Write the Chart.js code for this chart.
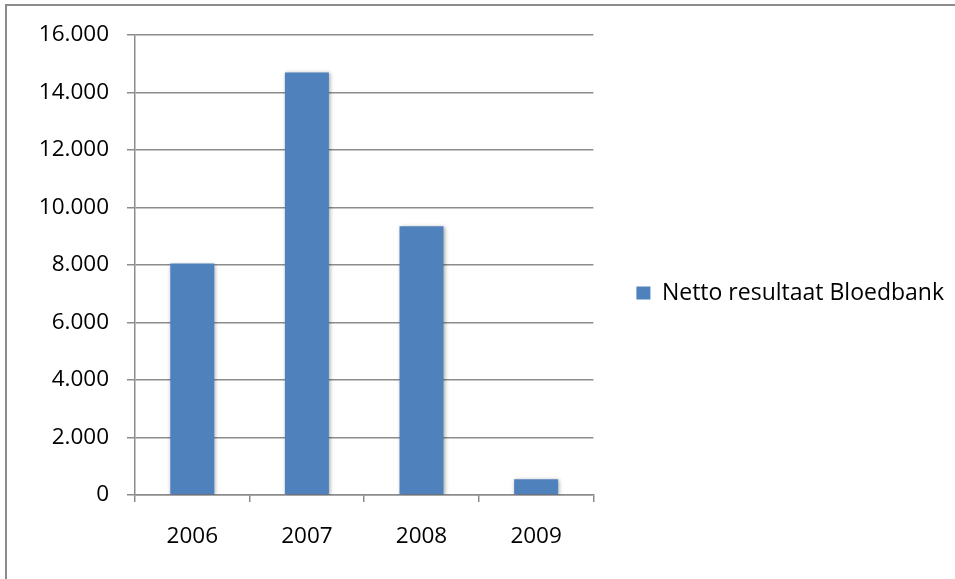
<!DOCTYPE html>
<html>
<head>
<meta charset="utf-8">
<script src="https://cdn.jsdelivr.net/npm/chart.js@4.4.1/dist/chart.umd.min.js"></script>
<style>
    html, body { margin: 0; padding: 0; background: #fff; }
    #wrap { position: relative; width: 955px; height: 579px; }
    #frame {
        position: absolute; left: 5px; top: 4px; right: 0; bottom: 0;
        border-top: 2px solid #8c8c8c; border-left: 2px solid #8c8c8c;
        pointer-events: none;
    }
</style>
</head>
<body>
<div id="wrap">
    <canvas id="chart" width="955" height="579"></canvas>
    <div id="frame"></div>
</div>
<script>
const years = ["2006", "2007", "2008", "2009"];
const nettoResultaat = [8050, 14700, 9350, 550];
const seriesLabel = "Netto resultaat Bloedbank";
const yMin = 0;
const yMax = 16000;
const yStep = 2000;

// Dutch thousands separator: 16000 -> "16.000"
function formatNl(v) {
    return String(v).replace(/\B(?=(\d{3})+(?!\d))/g, ".");
}

// soft drop shadow behind the bars, like the Office chart
const barShadow = {
    id: "barShadow",
    beforeDatasetsDraw(chart) {
        const ctx = chart.ctx;
        ctx.save();
        ctx.shadowColor = "rgba(0, 0, 0, 0.35)";
        ctx.shadowBlur = 4;
        ctx.shadowOffsetX = 1;
        ctx.shadowOffsetY = 1;
    },
    afterDatasetsDraw(chart) {
        chart.ctx.restore();
    }
};

Chart.defaults.font.family = "'Open Sans', sans-serif";
Chart.defaults.color = "#000";

const ctx = document.getElementById("chart").getContext("2d");
new Chart(ctx, {
    type: "bar",
    data: {
        labels: years,
        datasets: [{
            label: seriesLabel,
            data: nettoResultaat,
            backgroundColor: "#4f81bd",
            borderWidth: 0,
            barPercentage: 1,
            categoryPercentage: 0.384
        }]
    },
    options: {
        responsive: false,
        animation: false,
        layout: { padding: { top: 35, left: 0, right: 1, bottom: 28 } },
        plugins: {
            tooltip: { enabled: false },
            legend: {
                position: "right",
                maxWidth: 420,
                labels: {
                    boxWidth: 14,
                    boxHeight: 13,
                    padding: 43,
                    font: { size: 23 },
                    color: "#000"
                }
            }
        },
        scales: {
            x: {
                grid: {
                    drawOnChartArea: false,
                    drawTicks: true,
                    tickLength: 7,
                    color: "#8c8c8c",
                    lineWidth: 1.5
                },
                border: { color: "#8c8c8c", width: 1.5 },
                ticks: { font: { size: 22.5 }, padding: 21, color: "#000" },
                afterFit(scale) { scale.height = 56; }
            },
            y: {
                min: yMin,
                max: yMax,
                grid: {
                    color: "#8c8c8c",
                    lineWidth: 1.5,
                    tickLength: 8
                },
                border: { color: "#8c8c8c", width: 1.5 },
                ticks: {
                    stepSize: yStep,
                    font: { size: 22.5 },
                    padding: 18,
                    color: "#000",
                    callback: v => formatNl(v)
                },
                afterFit(scale) { scale.width = 135; }
            }
        }
    },
    plugins: [barShadow]
});
</script>
</body>
</html>
